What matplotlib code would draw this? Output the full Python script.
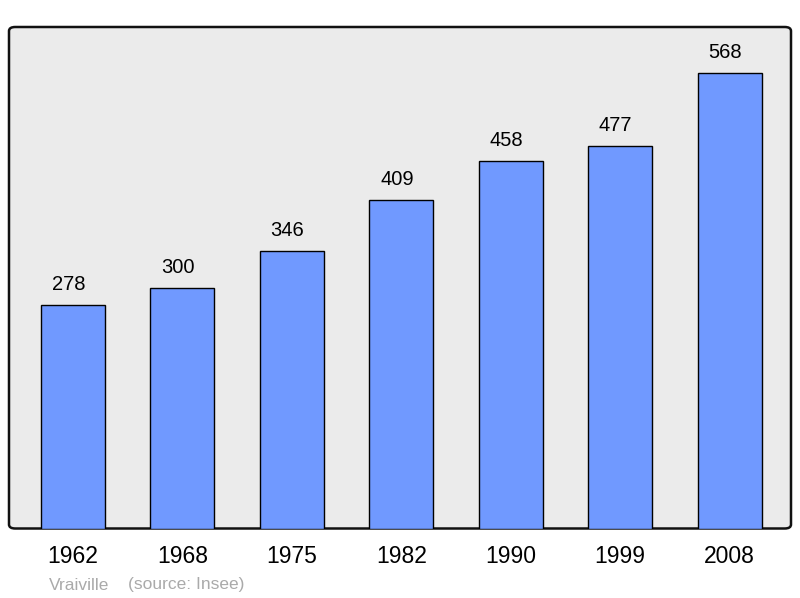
import matplotlib
matplotlib.use("Agg")
import matplotlib.pyplot as plt
from matplotlib.patches import FancyBboxPatch

plt.rcParams["font.family"] = ["Liberation Sans", "DejaVu Sans"]

years = ["1962", "1968", "1975", "1982", "1990", "1999", "2008"]
population = [278, 300, 346, 409, 458, 477, 568]
town = "Vraiville"
source = "(source: Insee)"

BAR_C = "#7099ff"
BG_C = "#ebebeb"

fig = plt.figure(figsize=(8.0, 5.98), dpi=100)
ax = fig.add_axes([9 / 800, 1 - 528.5 / 598, 782 / 800, 501.5 / 598])
ax.set_facecolor("none")
for s in ax.spines.values():
    s.set_visible(False)

# rounded frame around the plot area
frame = FancyBboxPatch((0, 0), 1, 1, boxstyle="round,pad=0,rounding_size=0.008",
                       transform=ax.transAxes, facecolor=BG_C, edgecolor="#111111",
                       linewidth=1.8, zorder=0, clip_on=False)
ax.add_patch(frame)

x = list(range(len(years)))
ax.bar(x, population, width=0.585, color=BAR_C, edgecolor="black",
       linewidth=1.0, zorder=2)
for xi, v in zip(x, population):
    ax.annotate(str(v), (xi, v), xytext=(-3.2, 8), textcoords="offset points",
                ha="center", va="bottom", fontsize=14.5, color="black")

ax.set_xlim(-0.585, 6.562)
ax.set_ylim(0, 625)
ax.set_yticks([])
ax.set_xticks(x)
ax.set_xticklabels(years, fontsize=16.5)
ax.tick_params(axis="x", length=0, pad=12)

fig.text(49 / 800, 1 - 585 / 598, town, fontsize=12.5, color="#aaaaaa",
         ha="left", va="center")
fig.text(128 / 800, 1 - 585 / 598, source, fontsize=12.5, color="#aaaaaa",
         ha="left", va="center")

fig.savefig("out.png", dpi=100)
